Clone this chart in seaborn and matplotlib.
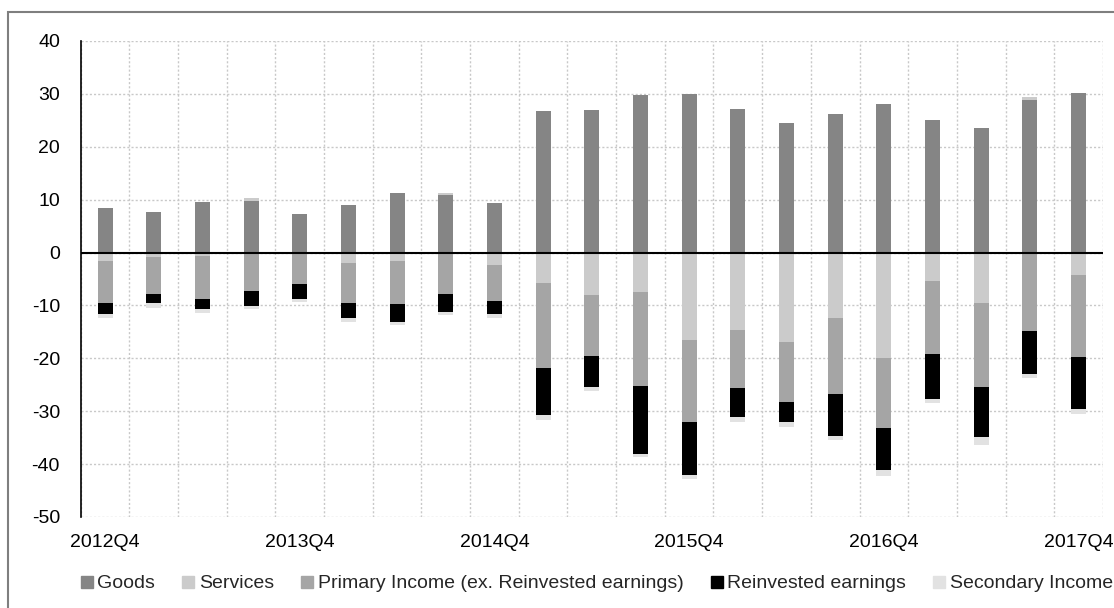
import numpy as np
import pandas as pd
import matplotlib
matplotlib.use("Agg")
import matplotlib.pyplot as plt
from matplotlib.lines import Line2D
from matplotlib.patches import Rectangle
import seaborn as sns

quarters = ["2012Q4", "2013Q1", "2013Q2", "2013Q3", "2013Q4", "2014Q1", "2014Q2",
            "2014Q3", "2014Q4", "2015Q1", "2015Q2", "2015Q3", "2015Q4", "2016Q1",
            "2016Q2", "2016Q3", "2016Q4", "2017Q1", "2017Q2", "2017Q3", "2017Q4"]
tick_labels = ["2012Q4", "2013Q4", "2014Q4", "2015Q4", "2016Q4", "2017Q4"]

goods = [8.5, 7.7, 9.6, 9.8, 7.2, 8.9, 11.2, 10.9, 9.4, 26.7, 26.9, 29.7, 30.0, 27.2,
         24.4, 26.2, 28.0, 25.0, 23.5, 28.8, 30.1]
services = [-1.6, -0.8, -0.6, 0.6, 0.0, -1.9, -1.6, 0.3, -2.4, -5.8, -8.1, -7.5, -16.5,
            -14.7, -17.0, -12.4, -20.0, -5.4, -9.6, 0.7, -4.2]
primary = [-7.9, -7.0, -8.1, -7.2, -6.0, -7.6, -8.1, -7.9, -6.8, -16.0, -11.4, -17.7,
           -15.6, -10.9, -11.3, -14.4, -13.2, -13.7, -15.8, -14.9, -15.6]
reinvested = [-2.2, -1.8, -2.0, -2.9, -2.7, -2.9, -3.4, -3.3, -2.5, -9.0, -5.9, -12.8,
              -9.9, -5.5, -3.8, -7.9, -7.9, -8.5, -9.4, -8.0, -9.7]
secondary = [-0.6, -0.8, -0.7, -0.6, -0.6, -0.8, -0.6, -0.6, -0.7, -0.9, -0.8, -0.7,
             -0.9, -0.9, -0.9, -0.8, -1.1, -0.9, -1.5, -0.9, -1.0]

series_names = ["Goods", "Services", "Primary Income (ex. Reinvested earnings)",
                "Reinvested earnings", "Secondary Income"]
series_vals = [goods, services, primary, reinvested, secondary]
colors = ["#858585", "#cbcbcb", "#a5a5a5", "#000000", "#e2e2e2"]

sns.set_theme(style="white")
plt.rcParams["font.family"] = ["Liberation Sans", "DejaVu Sans"]
plt.rcParams["font.size"] = 14
plt.rcParams["axes.unicode_minus"] = False

fig = plt.figure(figsize=(11.14, 6.08), dpi=100)
ax = fig.add_axes([0.0725, 0.1497, 0.990 - 0.0725, 0.9326 - 0.1497])

pos_bottom = np.zeros(len(quarters))
neg_bottom = np.zeros(len(quarters))
for name, vals, col in zip(series_names, series_vals, colors):
    v = np.array(vals, dtype=float)
    bottom = np.where(v >= 0, pos_bottom, neg_bottom)
    df = pd.DataFrame({"q": quarters, "v": v})
    sns.barplot(data=df, x="q", y="v", order=quarters, color=col, width=0.31,
                bottom=bottom, errorbar=None, ax=ax, saturation=1,
                edgecolor="none", linewidth=0, zorder=3)
    pos_bottom = pos_bottom + np.where(v >= 0, v, 0)
    neg_bottom = neg_bottom + np.where(v < 0, v, 0)

ax.set_xlim(-0.5, len(quarters) - 0.5)
ax.set_ylim(-50, 40)
ax.set_yticks(np.arange(-50, 41, 10))
ax.set_xticks([quarters.index(t) for t in tick_labels])
ax.set_xticklabels(tick_labels)
ax.set_xticks(np.arange(-0.5, len(quarters), 1.0), minor=True)
ax.set_xlabel("")
ax.set_ylabel("")

ax.grid(False)
ax.yaxis.grid(True, which="major", color="#c8c8c8", linestyle=(0, (1.5, 1.5)), linewidth=1, zorder=0)
ax.xaxis.grid(True, which="minor", color="#c8c8c8", linestyle=(0, (1.5, 1.5)), linewidth=1, zorder=0)
ax.set_axisbelow(True)

ax.axhline(0, color="black", linewidth=1.5, zorder=4)
for s in ["top", "right", "bottom"]:
    ax.spines[s].set_visible(False)
ax.spines["left"].set_color("black")
ax.spines["left"].set_linewidth(1.2)

ax.tick_params(axis="y", which="both", length=0, pad=15, labelsize=14, labelcolor="black")
ax.tick_params(axis="x", which="both", length=0, pad=12, labelsize=14, labelcolor="black")

handles = [Line2D([0], [0], marker="s", linestyle="none", markersize=9,
                  markerfacecolor=c, markeredgecolor=c) for c in colors]
fig.legend(handles, series_names, loc="center", bbox_to_anchor=(0.534, 0.04), ncol=5,
           frameon=False, handletextpad=0.05, columnspacing=1.2, handlelength=1.0,
           fontsize=14)

border = Rectangle((8 / 1114, -0.1), 1.2, 0.98 + 0.1, transform=fig.transFigure,
                   fill=False, edgecolor="#7f7f7f", linewidth=1.5)
fig.patches.append(border)

fig.savefig("out.png", dpi=100)
